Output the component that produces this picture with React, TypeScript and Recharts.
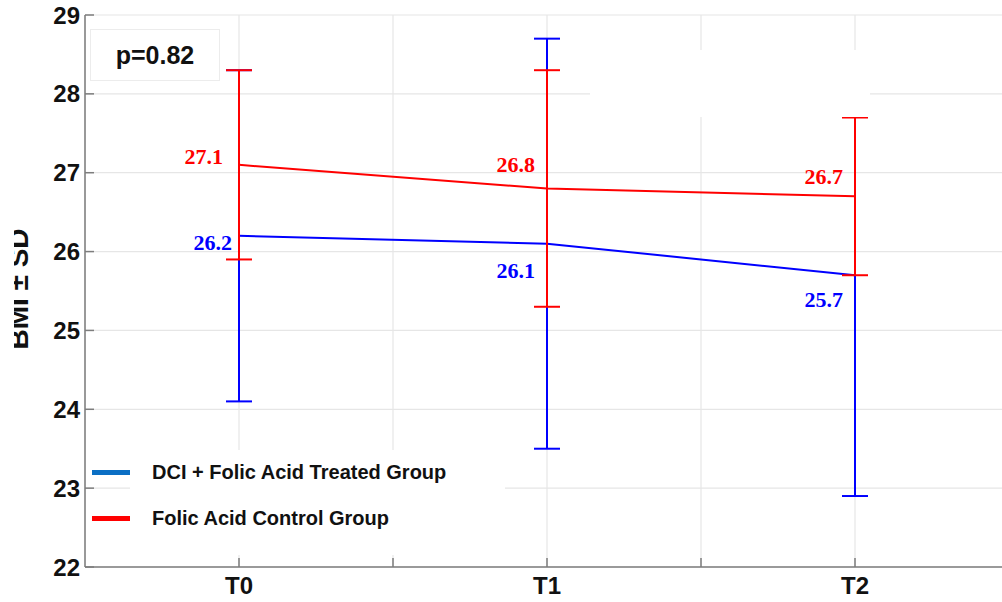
import {
  CartesianGrid,
  ErrorBar,
  LabelList,
  Line,
  LineChart,
  XAxis,
  YAxis,
} from "recharts";

// time points and group summaries (mean ± SD of BMI)
const timepoints = ["T0", "T1", "T2"];
const treatedMean = [26.2, 26.1, 25.7];
const treatedSd = [2.1, 2.6, 2.8];
const controlMean = [27.1, 26.8, 26.7];
const controlSd = [1.2, 1.5, 1.0];

const yTicks = [22, 23, 24, 25, 26, 27, 28, 29];
const xTicks = [0, 0.5, 1, 1.5, 2];
const pValue = "p=0.82";

const TREATED = "#0000ff";
const CONTROL = "#ff0000";
const AXIS = "#7d7d7d";
const SANS = "'Liberation Sans', Arial, sans-serif";
const SERIF = "'Liberation Serif', 'Times New Roman', serif";

// label nudges relative to each point (px)
const controlLabelOffset = [
  [-16, -8],
  [-12, -24],
  [-12, -20],
];
const treatedLabelOffset = [
  [-7, 7],
  [-12, 27],
  [-12, 24],
];

const rows = timepoints.map((t, i) => ({
  x: i,
  name: t,
  treated: treatedMean[i],
  treatedErr: treatedSd[i],
  control: controlMean[i],
  controlErr: controlSd[i],
}));

const legendItems = [
  { label: "DCI + Folic Acid Treated Group", color: "#0b6fc4" },
  { label: "Folic Acid Control Group", color: "#ff0000" },
];

function valueLabel(color: string, offsets: number[][]) {
  return (props: any) => {
    const { x, y, value, index } = props;
    const [dx, dy] = offsets[index] ?? [-12, 0];
    return (
      <text
        x={x + dx}
        y={y + dy}
        textAnchor="end"
        dominantBaseline="central"
        fill={color}
        fontFamily={SERIF}
        fontWeight="bold"
        fontSize={22}
      >
        {Number(value).toFixed(1)}
      </text>
    );
  };
}

function LegendBox() {
  return (
    <div
      style={{
        position: "absolute",
        left: 130,
        top: 450,
        width: 375,
        height: 105,
        background: "#fff",
      }}
    >
      {legendItems.map((it, i) => (
        <div
          key={it.label}
          style={{
            position: "absolute",
            left: -38,
            top: 22 + i * 46 - 15,
            height: 30,
            display: "flex",
            alignItems: "center",
          }}
        >
          <div style={{ width: 38, height: 5, background: it.color }} />
          <span
            style={{
              marginLeft: 22,
              fontFamily: SANS,
              fontWeight: "bold",
              fontSize: 20,
              color: "#111",
              whiteSpace: "nowrap",
            }}
          >
            {it.label}
          </span>
        </div>
      ))}
    </div>
  );
}

export default function App() {
  const tickStyle = { fontSize: 24, fontWeight: "bold", fill: "#111", fontFamily: SANS };
  return (
    <div
      style={{
        position: "absolute",
        left: 0,
        top: 0,
        width: 1002,
        height: 602,
        overflow: "hidden",
        background: "#fff",
        fontFamily: SANS,
      }}
    >
      <LineChart
        width={1010}
        height={602}
        data={rows}
        margin={{ top: 15, right: 1, left: 0, bottom: 0 }}
      >
        <CartesianGrid stroke="#e6e6e6" strokeWidth={1.2} />
        <XAxis
          dataKey="x"
          type="number"
          domain={[-0.5, 2.5]}
          ticks={xTicks}
          tickFormatter={(v: number) => (Number.isInteger(v) ? timepoints[v] : "")}
          height={35}
          tick={tickStyle}
          tickSize={-9}
          tickMargin={19}
          tickLine={{ stroke: AXIS, strokeWidth: 1.5 }}
          axisLine={{ stroke: AXIS, strokeWidth: 1.5 }}
          interval={0}
        />
        <XAxis
          xAxisId="top"
          dataKey="x"
          type="number"
          orientation="top"
          domain={[-0.5, 2.5]}
          ticks={xTicks}
          height={0}
          tick={false}
          tickSize={-9}
          tickLine={{ stroke: AXIS, strokeWidth: 1.5 }}
          axisLine={{ stroke: AXIS, strokeWidth: 1.5 }}
        />
        <YAxis
          domain={[22, 29]}
          ticks={yTicks}
          width={85}
          tick={tickStyle}
          tickSize={-9}
          tickMargin={14}
          tickLine={{ stroke: AXIS, strokeWidth: 1.5 }}
          axisLine={{ stroke: AXIS, strokeWidth: 1.5 }}
          interval={0}
        />
        <YAxis
          yAxisId="right"
          orientation="right"
          domain={[22, 29]}
          ticks={yTicks}
          width={0}
          tick={false}
          tickSize={-9}
          tickLine={{ stroke: AXIS, strokeWidth: 1.5 }}
          axisLine={{ stroke: AXIS, strokeWidth: 1.5 }}
        />
        <Line
          type="linear"
          dataKey="treated"
          stroke={TREATED}
          strokeWidth={2}
          dot={false}
          activeDot={false}
          isAnimationActive={false}
        >
          <ErrorBar dataKey="treatedErr" width={13} stroke={TREATED} strokeWidth={2} />
          <LabelList dataKey="treated" content={valueLabel(TREATED, treatedLabelOffset)} />
        </Line>
        <Line
          type="linear"
          dataKey="control"
          stroke={CONTROL}
          strokeWidth={2}
          dot={false}
          activeDot={false}
          isAnimationActive={false}
        >
          <ErrorBar dataKey="controlErr" width={13} stroke={CONTROL} strokeWidth={2} />
          <LabelList dataKey="control" content={valueLabel(CONTROL, controlLabelOffset)} />
        </Line>
      </LineChart>

      <LegendBox />

      {/* blank patch over the upper band between T1 and T2 */}
      <div
        style={{
          position: "absolute",
          left: 590,
          top: 50,
          width: 280,
          height: 67,
          background: "#fff",
        }}
      />

      {/* p-value box */}
      <div
        style={{
          position: "absolute",
          left: 90,
          top: 29,
          width: 130,
          height: 52,
          boxSizing: "border-box",
          border: "1px solid #ececec",
          background: "#fff",
          display: "flex",
          alignItems: "center",
          justifyContent: "center",
          fontFamily: SANS,
          fontWeight: "bold",
          fontSize: 25,
          color: "#111",
        }}
      >
        {pValue}
      </div>

      {/* y-axis title */}
      <div
        style={{
          position: "absolute",
          left: 19 - 100,
          top: 289 - 15,
          width: 200,
          height: 30,
          lineHeight: "30px",
          textAlign: "center",
          transform: "rotate(-90deg)",
          fontFamily: SANS,
          fontWeight: "bold",
          fontSize: 28,
          color: "#111",
          whiteSpace: "nowrap",
        }}
      >
        BMI ± SD
      </div>
      <div
        style={{
          position: "absolute",
          left: 0,
          top: 0,
          width: 14,
          height: 602,
          background: "#fff",
        }}
      />
    </div>
  );
}
